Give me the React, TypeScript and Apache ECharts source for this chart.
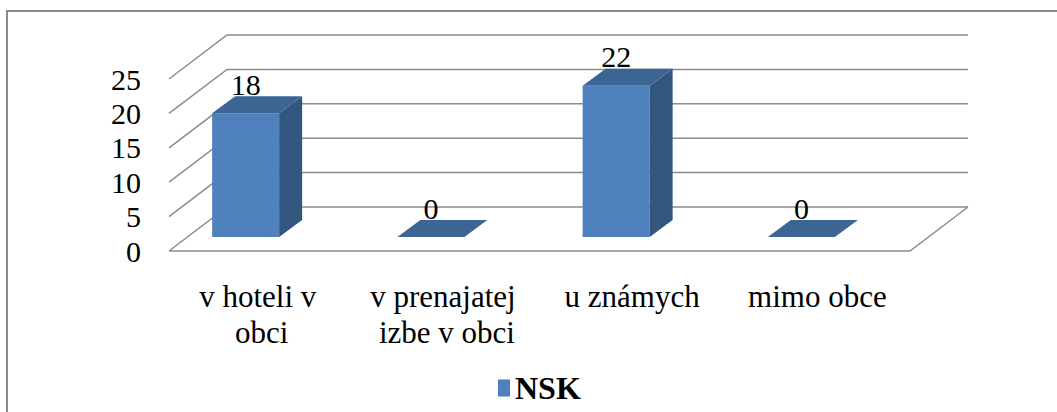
import React, { useEffect, useRef } from "react";
import * as echarts from "echarts";

// ---- data ----
const categories = ["v hoteli v obci", "v prenajatej izbe v obci", "u známych", "mimo obce"];
const seriesName = "NSK";
const values = [18, 0, 22, 0];
const yTicks = [0, 5, 10, 15, 20, 25];

// ---- style ----
const FONT = "Times New Roman, Liberation Serif, Tinos, DejaVu Serif, serif";
const FRONT = "#4F81BD";
const TOP = "#3D6593";
const SIDE = "#33567F";
const GRID_COLOR = "#8C8C8C";
const WALL_DX = 58;
const WALL_DY = -44;
const BAR_DX = 23;
const BAR_DY = -17;
const BAR_BASE_DY = -14;
const BAR_SHIFT_RATIO = -16 / 185.25;
const BAR_WIDTH_RATIO = 67 / 185.25;

export default function App() {
  const ref = useRef<HTMLDivElement>(null);

  useEffect(() => {
    if (!ref.current) return;
    const chart = echarts.init(ref.current, null, { renderer: "svg" });

    const wallsRender = (params: any, api: any) => {
      const cs = params.coordSys;
      const v = api.value(1);
      const y = api.coord([0, v])[1];
      const x0 = cs.x;
      const x1 = cs.x + cs.width;
      const lineStyle = { stroke: GRID_COLOR, lineWidth: 1.5, fill: "none" };
      const children: any[] = [
        {
          type: "polyline",
          shape: { points: [[x0, y], [x0 + WALL_DX, y + WALL_DY], [x1 + WALL_DX, y + WALL_DY]] },
          style: lineStyle,
        },
      ];
      if (v === 0) {
        children.push({
          type: "polyline",
          shape: { points: [[x0, y], [x1, y], [x1 + WALL_DX, y + WALL_DY]] },
          style: lineStyle,
        });
      }
      return { type: "group", children };
    };

    const barsRender = (params: any, api: any) => {
      const i = api.value(0);
      const v = api.value(1);
      const b = api.coord([i, 0]);
      const t = api.coord([i, v]);
      const band = api.size([1, 0])[0];
      const w = band * BAR_WIDTH_RATIO;
      const cx = b[0] + band * BAR_SHIFT_RATIO;
      const by = b[1] + BAR_BASE_DY;
      const ty = t[1] + BAR_BASE_DY;
      const xl = cx - w / 2;
      const xr = cx + w / 2;
      const children: any[] = [];
      if (by - ty > 0.5) {
        children.push({
          type: "rect",
          shape: { x: xl, y: ty, width: w, height: by - ty },
          style: { fill: FRONT },
        });
        children.push({
          type: "polygon",
          shape: { points: [[xr, ty], [xr + BAR_DX, ty + BAR_DY], [xr + BAR_DX, by + BAR_DY], [xr, by]] },
          style: { fill: SIDE },
        });
      }
      children.push({
        type: "polygon",
        shape: { points: [[xl, ty], [xr, ty], [xr + BAR_DX, ty + BAR_DY], [xl + BAR_DX, ty + BAR_DY]] },
        style: { fill: TOP },
      });
      children.push({
        type: "text",
        x: cx,
        y: ty + BAR_DY - 12,
        style: {
          text: String(v),
          fontSize: 30,
          fontFamily: FONT,
          fill: "#000",
          align: "center",
          verticalAlign: "middle",
        },
      });
      return { type: "group", children };
    };

    chart.setOption({
      animation: false,
      backgroundColor: "#fff",
      textStyle: { fontFamily: FONT },
      grid: { left: 169, right: 147, top: 79, bottom: 161, containLabel: false },
      xAxis: {
        type: "category",
        data: categories,
        axisLine: { show: false },
        axisTick: { show: false },
        splitLine: { show: false },
        axisLabel: {
          interval: 0,
          fontSize: 31,
          lineHeight: 35.6,
          margin: 28,
          width: 160,
          overflow: "break",
          color: "#000",
          fontFamily: FONT,
        },
      },
      yAxis: {
        type: "value",
        min: 0,
        max: 25,
        interval: 5,
        axisLine: { show: false },
        axisTick: { show: false },
        splitLine: { show: false },
        axisLabel: { fontSize: 30, margin: 28, color: "#000", fontFamily: FONT },
      },
      legend: {
        data: [{ name: seriesName, icon: "rect", itemStyle: { color: FRONT } }],
        left: 498,
        top: 372,
        padding: 0,
        itemWidth: 12,
        itemHeight: 17,
        textStyle: { fontSize: 32, fontWeight: "bold", fontFamily: FONT, color: "#000" },
      },
      graphic: [
        {
          type: "rect",
          shape: { x: 7, y: 11, width: 1100, height: 500 },
          style: { fill: "none", stroke: "#8A8A8A", lineWidth: 2 },
          silent: true,
        },
      ],
      series: [
        {
          name: "walls",
          type: "custom",
          renderItem: wallsRender,
          data: yTicks.map((v) => [0, v]),
          encode: { x: 0, y: 1 },
          clip: false,
          silent: true,
          z: 1,
        },
        {
          name: seriesName,
          type: "custom",
          renderItem: barsRender,
          data: values.map((v, i) => [i, v]),
          encode: { x: 0, y: 1 },
          itemStyle: { color: FRONT },
          clip: false,
          z: 2,
        },
      ],
    });

    return () => chart.dispose();
  }, []);

  return (
    <div
      ref={ref}
      style={{ position: "fixed", left: 0, top: 0, width: 1057, height: 412, background: "#fff" }}
    />
  );
}
